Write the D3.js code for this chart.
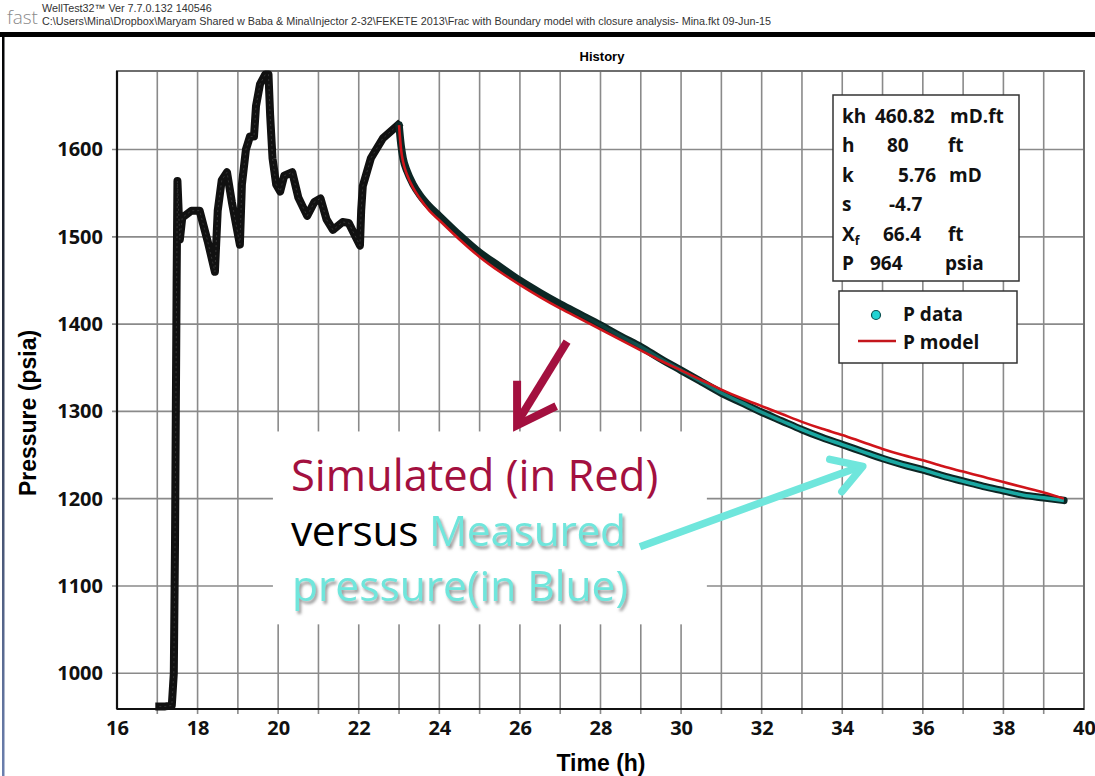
<!DOCTYPE html>
<html>
<head>
<meta charset="utf-8">
<script src="https://cdn.jsdelivr.net/npm/d3@7"></script>
<style>
  body { margin: 0; background: #fff; }
  svg { display: block; }
</style>
</head>
<body>
<div id="chart"></div>
<script>
// history (rate steps) before the shut-in: [time h, pressure psia]
const historyTime = [17.05, 17.2, 17.36, 17.41, 17.44, 17.46, 17.48, 17.5, 17.53, 17.56, 17.62, 17.85, 18.05, 18.25, 18.43, 18.5, 18.6, 18.73, 18.85, 19.05,
  19.1, 19.2, 19.3, 19.4, 19.45, 19.55, 19.68, 19.76, 19.8, 19.86, 19.95, 20.05, 20.15, 20.35, 20.5, 20.72, 20.9, 21.05, 21.2, 21.36,
  21.6, 21.75, 22.03, 22.06, 22.1, 22.3, 22.6, 22.97];
const historyPres = [962, 962, 963, 1000, 1150, 1300, 1450, 1564, 1530, 1497, 1522, 1530, 1530, 1495, 1460, 1530, 1565, 1574, 1540, 1491,
  1560, 1600, 1615, 1615, 1650, 1675, 1686, 1686, 1640, 1590, 1560, 1552, 1570, 1574, 1545, 1524, 1540, 1544, 1520, 1508,
  1517, 1516, 1490, 1530, 1558, 1590, 1613, 1628];

// fall-off, measured
const dataTime = [23.0, 23.05, 23.1, 23.2, 23.35, 23.5, 23.75, 24, 24.5, 25, 25.5, 26, 26.5, 27, 27.5, 28, 28.5, 29, 29.5, 30,
  30.5, 31, 31.5, 32, 32.5, 33, 33.5, 34, 34.5, 35, 35.5, 36, 36.5, 37, 37.5, 38, 38.5, 39, 39.5];
const dataPres = [1628, 1605, 1590, 1575, 1560, 1549, 1535, 1524, 1502, 1482, 1466, 1450, 1436, 1423, 1411, 1399, 1386, 1374, 1360, 1347,
  1334, 1321, 1310, 1299, 1289, 1279, 1270, 1262, 1254, 1246, 1239, 1233, 1226, 1220, 1214, 1209, 1204, 1201, 1198];

// fall-off, model
const modelPres = [1628, 1600, 1586, 1571, 1556, 1545, 1530, 1519, 1497, 1477, 1460, 1445, 1431, 1418, 1406, 1394, 1382, 1370, 1358, 1347,
  1336, 1325, 1315, 1306, 1297, 1288, 1280, 1273, 1265, 1257, 1250, 1244, 1237, 1231, 1225, 1219, 1213, 1207, 1200];

const xTicks = [16, 18, 20, 22, 24, 26, 28, 30, 32, 34, 36, 38, 40];
const yTicks = [1000, 1100, 1200, 1300, 1400, 1500, 1600];

const paramLabels = ["kh", "h", "k", "s", "X", "P"];
const paramValues = ["460.82", "80", "5.76", "-4.7", "66.4", "964"];
const paramUnits = ["mD.ft", "ft", "mD", "", "ft", "psia"];

const W = 1095, H = 776;
const margin = {top: 71, right: 11, bottom: 67, left: 117};
const width = W - margin.left - margin.right;
const height = H - margin.top - margin.bottom;

const svg = d3.select("#chart").append("svg")
    .attr("width", W)
    .attr("height", H);

const defs = svg.append("defs");
const shadow = defs.append("filter").attr("id", "shadow")
    .attr("x", "-10%").attr("y", "-20%").attr("width", "130%").attr("height", "160%");
shadow.append("feDropShadow")
    .attr("dx", 2).attr("dy", 3).attr("stdDeviation", 1.6)
    .attr("flood-color", "#777").attr("flood-opacity", 0.75);

// ---- page header
svg.append("text").attr("x", 7).attr("y", 24)
    .style("font", "300 19px 'Open Sans', sans-serif").style("fill", "#8a8a8a").text("fast");
svg.append("text").attr("x", 42).attr("y", 12)
    .style("font", "10.8px 'Liberation Sans', Arial, sans-serif").style("fill", "#333")
    .text("WellTest32\u2122 Ver 7.7.0.132 140546");
svg.append("text").attr("x", 42).attr("y", 25)
    .style("font", "10.8px 'Liberation Sans', Arial, sans-serif").style("fill", "#333")
    .text("C:\\Users\\Mina\\Dropbox\\Maryam Shared w Baba & Mina\\Injector 2-32\\FEKETE 2013\\Frac with Boundary model with closure analysis- Mina.fkt 09-Jun-15");
svg.append("rect").attr("x", 0).attr("y", 32).attr("width", W).attr("height", 5).style("fill", "#000");
const edge = defs.append("linearGradient").attr("id", "edge").attr("x1", 0).attr("y1", 0).attr("x2", 0).attr("y2", 1);
edge.append("stop").attr("offset", "0%").attr("stop-color", "#000");
edge.append("stop").attr("offset", "100%").attr("stop-color", "#6b7fae");
svg.append("rect").attr("x", 2).attr("y", 37).attr("width", 2.5).attr("height", H - 37).style("fill", "url(#edge)");

const g = svg.append("g").attr("transform", "translate(" + margin.left + "," + margin.top + ")");

const x = d3.scaleLinear().domain([16, 40]).range([0, width]);
const y = d3.scaleLinear().domain([959, 1690]).range([height, 0]);

// grid
g.append("g").selectAll("line").data(d3.range(17, 40)).enter().append("line")
    .attr("x1", d => x(d)).attr("x2", d => x(d)).attr("y1", 0).attr("y2", height + 5)
    .style("stroke", "#8a8a8a").style("stroke-width", 1.6);
g.append("g").selectAll("line").data(yTicks).enter().append("line")
    .attr("x1", -5).attr("x2", width).attr("y1", d => y(d)).attr("y2", d => y(d))
    .style("stroke", "#8a8a8a").style("stroke-width", 1.6);

// frame
g.append("rect").attr("width", width).attr("height", height)
    .style("fill", "none").style("stroke", "#6e6e6e").style("stroke-width", 2);
g.append("line").attr("x1", 0).attr("x2", 0).attr("y1", 0).attr("y2", height)
    .style("stroke", "#111").style("stroke-width", 2.2);
g.append("line").attr("x1", 0).attr("x2", width).attr("y1", height).attr("y2", height)
    .style("stroke", "#111").style("stroke-width", 2.2);

// axes labels
const tickFont = "bold 20px 'Open Sans', sans-serif";
const xAxis = g.append("g").attr("transform", "translate(0," + height + ")")
    .call(d3.axisBottom(x).tickValues(xTicks).tickFormat(d3.format("d")).tickSize(0).tickPadding(12));
const yAxis = g.append("g")
    .call(d3.axisLeft(y).tickValues(yTicks).tickFormat(d3.format("d")).tickSize(0).tickPadding(14));
[xAxis, yAxis].forEach(a => {
  a.select(".domain").remove();
  a.selectAll("text").style("font", tickFont).style("fill", "#111");
});

svg.append("text").attr("x", 602).attr("y", 61).attr("text-anchor", "middle")
    .style("font", "bold 13px 'Liberation Sans', Arial, sans-serif").text("History");
svg.append("text").attr("x", 601).attr("y", 771).attr("text-anchor", "middle")
    .style("font", "bold 23px 'Liberation Sans', Arial, sans-serif").text("Time (h)");
svg.append("text").attr("transform", "translate(36,413) rotate(-90)").attr("text-anchor", "middle")
    .style("font", "bold 23px 'Liberation Sans', Arial, sans-serif").text("Pressure (psia)");

// data
const histPts = historyTime.map((t, i) => [t, historyPres[i]]);
const dataPts = dataTime.map((t, i) => [t, dataPres[i]]);
const modelPts = dataTime.map((t, i) => [t, modelPres[i]]);
const line = d3.line().x(d => x(d[0])).y(d => y(d[1])).curve(d3.curveMonotoneX);
const lineLin = d3.line().x(d => x(d[0])).y(d => y(d[1]));

g.append("path").datum(histPts).attr("d", lineLin)
    .style("fill", "none").style("stroke", "#111").style("stroke-width", 8)
    .style("stroke-linejoin", "round").style("stroke-linecap", "square");
g.append("path").datum(histPts).attr("d", lineLin)
    .style("fill", "none").style("stroke", "#555").style("stroke-width", 1)
    .style("stroke-dasharray", "2 3").style("opacity", 0.5);

const teal = defs.append("linearGradient").attr("id", "teal")
    .attr("gradientUnits", "userSpaceOnUse")
    .attr("x1", x(27)).attr("x2", x(33)).attr("y1", 0).attr("y2", 0);
teal.append("stop").attr("offset", "0%").attr("stop-color", "#1aa8a2").attr("stop-opacity", 0);
teal.append("stop").attr("offset", "100%").attr("stop-color", "#1aa8a2").attr("stop-opacity", 1);

g.append("path").datum(dataPts).attr("d", line)
    .style("fill", "none").style("stroke", "#0c2624").style("stroke-width", 7.5)
    .style("stroke-linecap", "round");
g.append("path").datum(dataPts).attr("d", line)
    .style("fill", "none").style("stroke", "url(#teal)").style("stroke-width", 3.5);
g.append("path").datum(modelPts).attr("d", line)
    .style("fill", "none").style("stroke", "#d0141a").style("stroke-width", 2.6);

// parameter box
const pb = g.append("g").attr("transform", "translate(" + (833 - margin.left) + "," + (95 - margin.top) + ")");
pb.append("rect").attr("width", 186).attr("height", 186)
    .style("fill", "#fff").style("stroke", "#333").style("stroke-width", 1.5);
const boxFont = "bold 19px 'Open Sans', sans-serif";
const valX = [42, 54, 65, 56, 50, 37];
const unitX = [117, 115, 116, 0, 115, 112];
paramLabels.forEach((lab, i) => {
  const yy = 28 + i * 29.4;
  const t = pb.append("text").attr("x", 9).attr("y", yy).style("font", boxFont).style("fill", "#111").text(lab);
  if (lab === "X") t.append("tspan").attr("dy", 4).style("font-size", "12px").text("f");
  pb.append("text").attr("x", valX[i]).attr("y", yy).style("font", boxFont).style("fill", "#111").text(paramValues[i]);
  if (paramUnits[i]) pb.append("text").attr("x", unitX[i]).attr("y", yy).style("font", boxFont).style("fill", "#111").text(paramUnits[i]);
});

// legend
const lg = g.append("g").attr("transform", "translate(" + (839 - margin.left) + "," + (291 - margin.top) + ")");
lg.append("rect").attr("width", 178).attr("height", 72)
    .style("fill", "#fff").style("stroke", "#333").style("stroke-width", 1.5);
lg.append("circle").attr("cx", 37).attr("cy", 24).attr("r", 4.5)
    .style("fill", "#22d3d3").style("stroke", "#0a4f4f").style("stroke-width", 1.2);
lg.append("line").attr("x1", 19).attr("x2", 57).attr("y1", 50).attr("y2", 50)
    .style("stroke", "#c4161c").style("stroke-width", 2.6);
lg.append("text").attr("x", 64).attr("y", 30).style("font", boxFont).style("fill", "#111").text("P data");
lg.append("text").attr("x", 64).attr("y", 58).style("font", boxFont).style("fill", "#111").text("P model");

// annotation
const note = {box: [19.87, 30.64, 1277, 1056],
  redArrow: [[27.17, 1380], [25.97, 1290]], redHead: [[25.93, 1335], [25.93, 1284], [26.9, 1306]],
  blueArrow: [[28.98, 1145], [34.4, 1236]], blueHead: [[33.69, 1245], [34.51, 1237], [33.99, 1208]]};
g.append("rect").attr("x", x(note.box[0])).attr("y", y(note.box[2]))
    .attr("width", x(note.box[1]) - x(note.box[0])).attr("height", y(note.box[3]) - y(note.box[2]))
    .style("fill", "#fff");
const redC = "#a3103f", blueC = "#6fe6dc";
g.append("path").attr("d", lineLin(note.redArrow)).style("stroke", redC).style("stroke-width", 8);
g.append("path").attr("d", lineLin(note.redHead)).style("fill", "none").style("stroke", redC)
    .style("stroke-width", 8).style("stroke-linejoin", "miter");
g.append("path").attr("d", lineLin(note.blueArrow)).style("stroke", blueC).style("stroke-width", 7.5);
g.append("path").attr("d", lineLin(note.blueHead)).style("fill", "none").style("stroke", blueC)
    .style("stroke-width", 7.5).style("stroke-linecap", "round").style("stroke-linejoin", "round");

const nf = "42.5px 'Open Sans', sans-serif";
const tx = x(19.87) + 18;
g.append("text").attr("x", tx).attr("y", 491 - margin.top).style("font", "43.5px 'Open Sans', sans-serif")
    .style("fill", redC).text("Simulated (in Red)");
const l2 = g.append("text").attr("x", tx).attr("y", 546 - margin.top).style("font", nf).style("letter-spacing", "-0.3px");
l2.append("tspan").style("fill", "#000").text("versus ");
l2.append("tspan").style("fill", blueC).attr("filter", "url(#shadow)").text("Measured");
g.append("text").attr("x", tx + 1).attr("y", 601 - margin.top).style("font", nf)
    .style("fill", blueC).attr("filter", "url(#shadow)").text("pressure(in Blue)");
</script>
</body>
</html>
